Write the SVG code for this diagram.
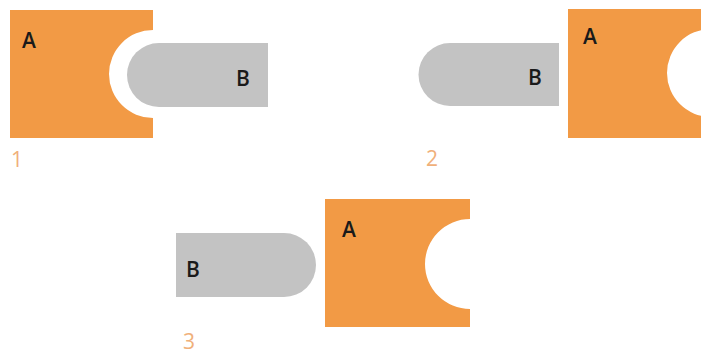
<svg xmlns="http://www.w3.org/2000/svg" width="701" height="356" viewBox="0 0 701 356">
<style>
.a{fill:#F29A45}
.b{fill:#C3C3C3}
.t{font-family:"Open Sans","Liberation Sans",Arial,sans-serif;font-size:21px;fill:#1a1a1a;font-weight:600}
.n{font-family:"Open Sans","Liberation Sans",Arial,sans-serif;font-size:21px;fill:#F0B07A}
</style>
<rect width="701" height="356" fill="#fff"/>
<g id="panel1">
<path class="a" d="M10,10 H153 V30 A44,44 0 0 0 153,118 V138 H10 Z"/>
<path class="b" d="M159,43 H268 V107 H159 A32,32 0 0 1 159,43 Z"/>
<text class="t" x="22" y="48">A</text>
<text class="t" x="236" y="86">B</text>
<text class="n" x="11" y="167">1</text>
</g>
<g id="panel2">
<path class="b" d="M450,43 H559 V106 H450 A31.5,31.5 0 0 1 450,43 Z"/>
<path class="a" d="M568,9 H711 V29 A44,44 0 0 0 711,117 V138 H568 Z"/>
<text class="t" x="583" y="44">A</text>
<text class="t" x="528" y="85">B</text>
<text class="n" x="426" y="166">2</text>
</g>
<g id="panel3">
<path class="b" d="M176,233 H284 A32,32 0 0 1 284,297 H176 Z"/>
<path class="a" d="M325,199 H470 V219 A45,45 0 0 0 470,309 V327 H325 Z"/>
<text class="t" x="342" y="237">A</text>
<text class="t" x="186" y="277">B</text>
<text class="n" x="183" y="349">3</text>
</g>
</svg>
